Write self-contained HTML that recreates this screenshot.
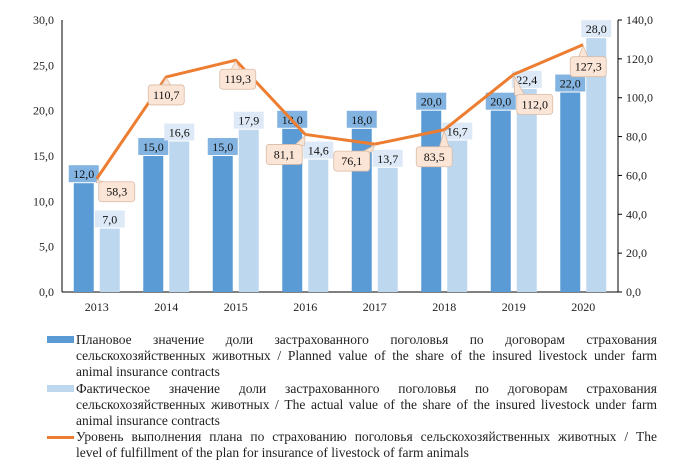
<!DOCTYPE html>
<html><head><meta charset="utf-8">
<style>
body{margin:0;background:#fff;}
#wrap{position:relative;width:673px;height:466px;overflow:hidden;font-family:"Liberation Serif",serif;}
svg{position:absolute;left:0;top:0;}
.leg{position:absolute;left:76px;width:581px;font-size:13.5px;line-height:16px;color:#222;}
.leg div{text-align:justify;text-align-last:justify;white-space:nowrap;}
.leg div.last{text-align-last:left;}
.sw{position:absolute;left:47px;width:27px;}
</style></head><body>
<div id="wrap">
<svg id="chart" width="673" height="466"></svg>
<div class="sw" style="top:336px;height:7px;background:#5b9bd5"></div>
<div class="leg" style="top:332px"><div>Плановое значение доли застрахованного поголовья по договорам страхования</div><div>сельскохозяйственных животных / Planned value of the share of the insured livestock under farm</div><div class="last">animal insurance contracts</div></div>
<div class="sw" style="top:385px;height:7px;background:#bdd7ee"></div>
<div class="leg" style="top:381px"><div>Фактическое значение доли застрахованного поголовья по договорам страхования</div><div>сельскохозяйственных животных / The actual value of the share of the insured livestock under farm</div><div class="last">animal insurance contracts</div></div>
<div class="sw" style="top:436px;height:3px;background:#ed7d31"></div>
<div class="leg" style="top:429px"><div>Уровень выполнения плана по страхованию поголовья сельскохозяйственных животных / The</div><div class="last">level of fulfillment of the plan for insurance of livestock of farm animals</div></div>
</div>
<script>
const categories=["2013","2014","2015","2016","2017","2018","2019","2020"];
const planned=[12.0,15.0,15.0,18.0,18.0,20.0,20.0,22.0];
const actual=[7.0,16.6,17.9,14.6,13.7,16.7,22.4,28.0];
const fulfillment=[58.3,110.7,119.3,81.1,76.1,83.5,112.0,127.3];
const leftTicks=[0,5,10,15,20,25,30];
const rightTicks=[0,20,40,60,80,100,120,140];
const fmt=v=>v.toFixed(1).replace('.',',');
const NS="http://www.w3.org/2000/svg";
const svg=document.getElementById('chart');
const X0=62,X1=618,Y0=292,Y1=20;
const band=(X1-X0)/categories.length;
const xc=i=>X0+band*(i+0.5);
const yL=v=>Y0-(v/30)*(Y0-Y1);
const yR=v=>Y0-(v/140)*(Y0-Y1);
function el(t,a,p){const e=document.createElementNS(NS,t);for(const k in a)e.setAttribute(k,a[k]);(p||svg).appendChild(e);return e;}
let ax=el('line',{x1:X0,y1:Y1,x2:X0,y2:Y0,stroke:'#000','stroke-width':1});


ax=el('line',{x1:X1,y1:Y1,x2:X1,y2:Y0,stroke:'#000','stroke-width':1});


ax=el('line',{x1:X0,y1:Y0,x2:X1,y2:Y0,stroke:'#000','stroke-width':1});


leftTicks.forEach(v=>{const t=el('text',{x:54,y:yL(v)+4,'text-anchor':'end','font-size':12,'font-family':'Liberation Serif, serif',fill:'#222'});t.textContent=fmt(v);

});
rightTicks.forEach(v=>{el('line',{x1:X1,y1:yR(v),x2:X1+4,y2:yR(v),stroke:'#000'});const t=el('text',{x:626,y:yR(v)+4,'font-size':12,'font-family':'Liberation Serif, serif',fill:'#222'});t.textContent=fmt(v);

});
categories.forEach((c,i)=>{const t=el('text',{x:xc(i),y:311,'text-anchor':'middle','font-size':12,'font-family':'Liberation Serif, serif',fill:'#222'});t.textContent=c;

});
const BW=20;
function barLabel(x,y,v,fill){const g=el('g',{});el('rect',{x:x-15,y:y-18,width:30,height:17,fill:fill},g);const t=el('text',{x:x,y:y-5,'text-anchor':'middle','font-size':12,'font-family':'Liberation Serif, serif',fill:'#111'},g);t.textContent=fmt(v);

}
categories.forEach((c,i)=>{
 const xa=xc(i)-BW-3, xb=xc(i)+3;
 const r1=el('rect',{x:xa,y:yL(planned[i]),width:BW,height:Y0-yL(planned[i]),fill:'#5b9bd5'});
 
 
 const r2=el('rect',{x:xb,y:yL(actual[i]),width:BW,height:Y0-yL(actual[i]),fill:'#bdd7ee'});
 
 
});
categories.forEach((c,i)=>{
 barLabel(xc(i)-BW/2-3,yL(planned[i]),planned[i],'#83b3e0');
 barLabel(xc(i)+BW/2+3,yL(actual[i]),actual[i],'#dde9f6');
});
const pts=fulfillment.map((v,i)=>[xc(i),yR(v)]);
const pl=el('polyline',{points:pts.map(p=>p.join(',')).join(' '),fill:'none',stroke:'#ed7d31','stroke-width':3,'stroke-linejoin':'round'});


const lo=[[20,13],[0,18],[2,19],[-21,20],[-23,17],[-10,27],[21,30],[5,22]];
fulfillment.forEach((v,i)=>{
 const cx=pts[i][0]+lo[i][0], cy=pts[i][1]+lo[i][1];
 const g=el('g',{});
 const bx=Math.max(cx-15,Math.min(cx+15,pts[i][0]));
 el('polygon',{points:`${pts[i][0]},${pts[i][1]+1} ${bx-5},${cy-9} ${bx+5},${cy-9}`,fill:'#fbe5d6',stroke:'#d9bba5','stroke-width':0.8},g);
 el('rect',{x:cx-18,y:cy-10,width:36,height:20,rx:3,fill:'#fbe5d6',stroke:'#d9bba5','stroke-width':0.8},g);
 const t=el('text',{x:cx,y:cy+4,'text-anchor':'middle','font-size':12,'font-family':'Liberation Serif, serif',fill:'#111'},g);t.textContent=fmt(v);
 
 
});
</script>
</body></html>
